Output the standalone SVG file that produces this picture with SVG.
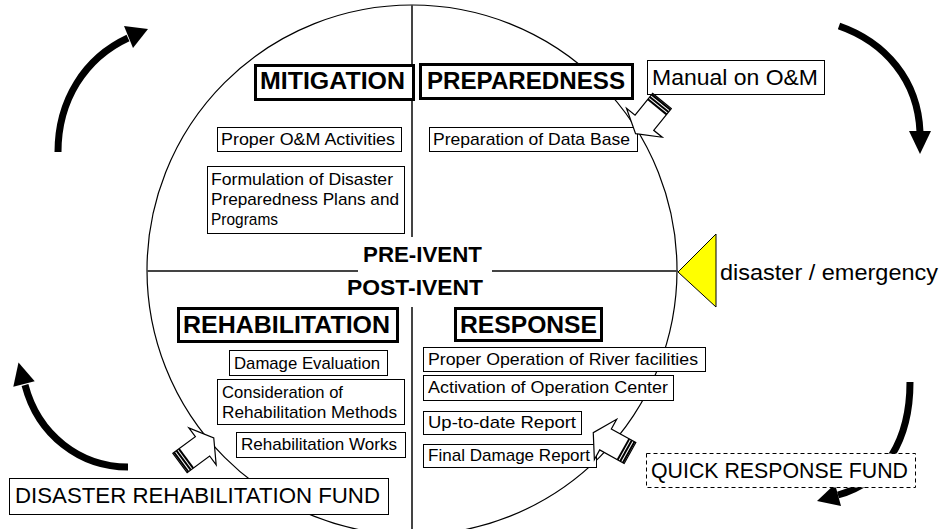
<svg xmlns="http://www.w3.org/2000/svg" width="941" height="529" viewBox="0 0 941 529">
  <style>
    text { font-family: "Liberation Sans", Arial, sans-serif; fill: #000; }
    .title { font-size: 24px; font-weight: bold; }
    .item { font-size: 17px; }
    .phase { font-size: 22px; font-weight: bold; }
    .fund { font-size: 22px; }
    .tbox { fill: #fff; stroke: #000; stroke-width: 3; }
    .box { fill: #fff; stroke: #000; stroke-width: 1; }
    .dash { fill: #fff; stroke: #000; stroke-width: 1; stroke-dasharray: 4 3; }
    .axis { stroke: #444; stroke-width: 2; fill: none; }
    .cycle { fill: none; stroke: #000; stroke-width: 7; }
    .head { fill: #000; stroke: none; }
    .block { fill: #fff; stroke: #000; stroke-width: 1.2; stroke-linejoin: miter; }
    .stripe { stroke: #000; stroke-width: 2; }
  </style>
  <defs>
    <!-- hollow block arrow pointing along +x, tail at origin -->
    <g id="blockArrow">
      <path class="block" d="M0,-12 H28 V-23 L42,0 L28,23 V12 H0 Z"/>
      <line class="stripe" x1="1.5" y1="-12" x2="1.5" y2="12"/>
      <line class="stripe" x1="4.5" y1="-12" x2="4.5" y2="12"/>
      <line class="stripe" x1="7.5" y1="-12" x2="7.5" y2="12"/>
    </g>
  </defs>

  <rect width="941" height="529" fill="#fff"/>

  <!-- cycle circle and axes -->
  <g id="cycle-frame">
    <circle cx="412" cy="270" r="265" fill="none" stroke="#000" stroke-width="1.2"/>
    <line class="axis" x1="412" y1="5" x2="412" y2="529"/>
    <line class="axis" x1="147" y1="271" x2="678" y2="271"/>
    <rect x="358" y="237" width="134" height="70" fill="#fff"/>
  </g>

  <!-- thick cycle arrows -->
  <g id="connectors">
    <path class="cycle" d="M58,152 C58,100 85,58 128,38"/>
    <polygon class="head" points="148,29 124,26 133,48"/>
    <path class="cycle" d="M839,26 C885,42 918,80 920,132"/>
    <polygon class="head" points="920,154 909,131 931,131"/>
    <path class="cycle" d="M128,467 C80,467 38,435 25,385"/>
    <polygon class="head" points="18.5,362.5 34.7,381.3 13.3,386.7"/>
    <path class="cycle" d="M910,382 C910,440 885,482 838,495"/>
    <polygon class="head" points="817,501 841,506 835,484"/>
  </g>

  <!-- quadrant titles -->
  <g id="mitigation">
    <rect class="tbox" x="255.5" y="65.5" width="158" height="34"/>
    <text class="title" x="260" y="89" textLength="145" lengthAdjust="spacingAndGlyphs">MITIGATION</text>
  </g>
  <g id="preparedness">
    <rect class="tbox" x="420.5" y="64.5" width="212" height="34"/>
    <text class="title" x="427" y="89" textLength="198" lengthAdjust="spacingAndGlyphs">PREPAREDNESS</text>
  </g>
  <g id="rehabilitation">
    <rect class="tbox" x="178.5" y="308.5" width="219" height="33"/>
    <text class="title" x="183" y="333" textLength="207" lengthAdjust="spacingAndGlyphs">REHABILITATION</text>
  </g>
  <g id="response">
    <rect class="tbox" x="455.5" y="308.5" width="146" height="32"/>
    <text class="title" x="460" y="333" textLength="137" lengthAdjust="spacingAndGlyphs">RESPONSE</text>
  </g>

  <!-- phase labels -->
  <g id="pre-event">
    <text class="phase" x="363" y="262" textLength="119" lengthAdjust="spacingAndGlyphs">PRE-IVENT</text>
  </g>
  <g id="post-event">
    <text class="phase" x="347" y="295" textLength="136" lengthAdjust="spacingAndGlyphs">POST-IVENT</text>
  </g>

  <!-- mitigation items -->
  <g id="proper-om">
    <rect class="box" x="217.5" y="127.5" width="184" height="24"/>
    <text class="item" x="221" y="145" textLength="174" lengthAdjust="spacingAndGlyphs">Proper O&amp;M Activities</text>
  </g>
  <g id="formulation">
    <rect class="box" x="207.5" y="166.5" width="197" height="67"/>
    <text class="item" x="211" y="185" textLength="182" lengthAdjust="spacingAndGlyphs">Formulation of Disaster</text>
    <text class="item" x="211" y="205" textLength="188" lengthAdjust="spacingAndGlyphs">Preparedness Plans and</text>
    <text class="item" x="211" y="225" textLength="67" lengthAdjust="spacingAndGlyphs">Programs</text>
  </g>

  <!-- preparedness items -->
  <g id="data-base">
    <rect class="box" x="429.5" y="127.5" width="208" height="24"/>
    <text class="item" x="433" y="145" textLength="197" lengthAdjust="spacingAndGlyphs">Preparation of Data Base</text>
  </g>
  <g id="manual">
    <rect class="box" x="647.5" y="60.5" width="177" height="34"/>
    <text class="fund" x="652" y="85" textLength="166" lengthAdjust="spacingAndGlyphs">Manual on O&amp;M</text>
  </g>

  <!-- rehabilitation items -->
  <g id="damage-evaluation">
    <rect class="box" x="229.5" y="350.5" width="158" height="25"/>
    <text class="item" x="234" y="369" textLength="146" lengthAdjust="spacingAndGlyphs">Damage Evaluation</text>
  </g>
  <g id="consideration">
    <rect class="box" x="217.5" y="379.5" width="187" height="45"/>
    <text class="item" x="222" y="398" textLength="121" lengthAdjust="spacingAndGlyphs">Consideration of</text>
    <text class="item" x="222" y="418" textLength="175" lengthAdjust="spacingAndGlyphs">Rehabilitation Methods</text>
  </g>
  <g id="rehab-works">
    <rect class="box" x="236.5" y="432.5" width="169" height="25"/>
    <text class="item" x="241" y="450" textLength="156" lengthAdjust="spacingAndGlyphs">Rehabilitation Works</text>
  </g>

  <!-- response items -->
  <g id="river-facilities">
    <rect class="box" x="423.5" y="347.5" width="282" height="24"/>
    <text class="item" x="428" y="365" textLength="270" lengthAdjust="spacingAndGlyphs">Proper Operation of River facilities</text>
  </g>
  <g id="operation-center">
    <rect class="box" x="423.5" y="375.5" width="250" height="25"/>
    <text class="item" x="428" y="393" textLength="240" lengthAdjust="spacingAndGlyphs">Activation of Operation Center</text>
  </g>
  <g id="up-to-date">
    <rect class="box" x="423.5" y="411.5" width="158" height="23"/>
    <text class="item" x="428" y="428" textLength="148" lengthAdjust="spacingAndGlyphs">Up-to-date Report</text>
  </g>
  <g id="final-damage">
    <rect class="box" x="423.5" y="444.5" width="173" height="23"/>
    <text class="item" x="428" y="461" textLength="162" lengthAdjust="spacingAndGlyphs">Final Damage Report</text>
  </g>

  <!-- funds -->
  <g id="quick-response-fund">
    <rect class="dash" x="646.5" y="453.5" width="269" height="34"/>
    <text class="fund" x="651" y="478" textLength="257" lengthAdjust="spacingAndGlyphs">QUICK RESPONSE FUND</text>
  </g>
  <g id="rehab-fund">
    <rect class="box" x="9.5" y="478.5" width="379" height="36"/>
    <text class="fund" x="15" y="503" textLength="365" lengthAdjust="spacingAndGlyphs">DISASTER REHABILITATION FUND</text>
  </g>

  <!-- hollow input arrows -->
  <g id="input-arrows">
    <use href="#blockArrow" transform="translate(662,101) rotate(129)"/>
    <use href="#blockArrow" transform="translate(630,453) rotate(209)"/>
    <use href="#blockArrow" transform="translate(180,463) rotate(-36.5)"/>
  </g>

  <!-- disaster trigger -->
  <g id="disaster">
    <polygon points="678,272 716,234 716,307" fill="#ffff00" stroke="#000" stroke-width="1"/>
    <text class="fund" x="720" y="280" textLength="218" lengthAdjust="spacingAndGlyphs">disaster / emergency</text>
  </g>
</svg>
